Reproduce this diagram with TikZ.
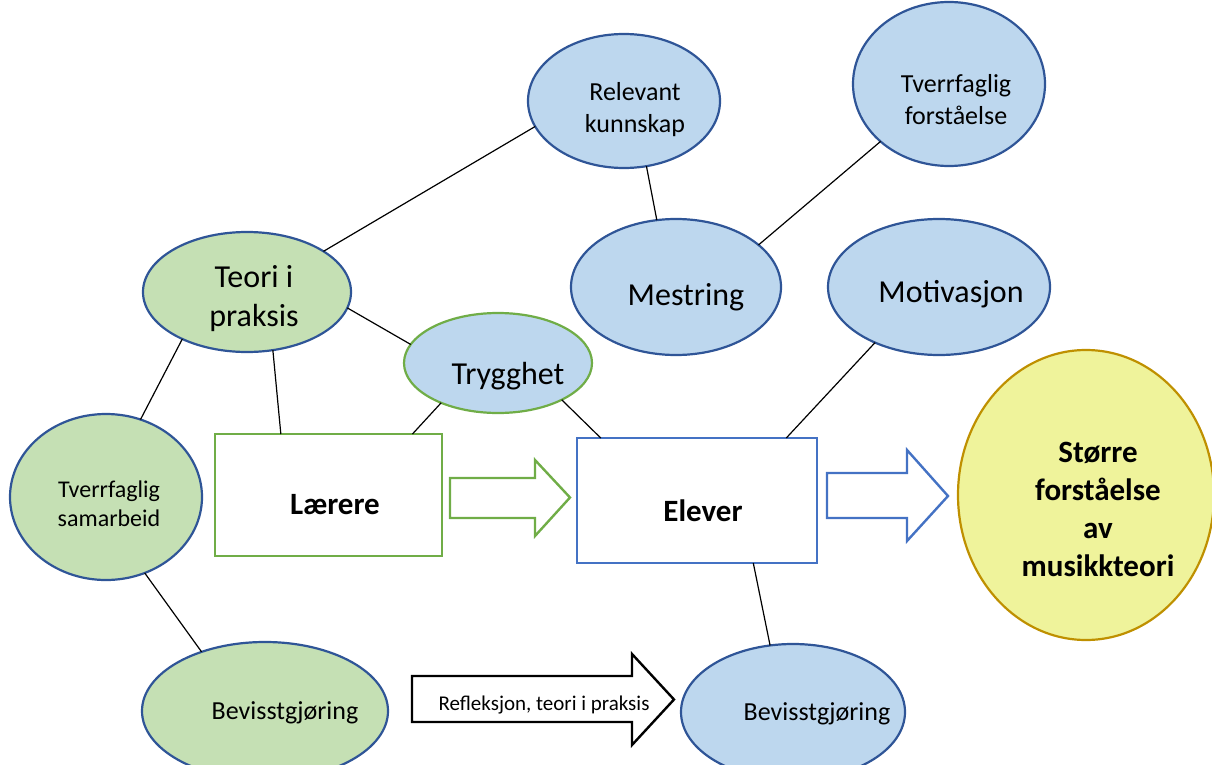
\documentclass[tikz,border=0pt]{standalone}
\usepackage{fontspec}
\setmainfont{Carlito}
\usetikzlibrary{shapes.geometric}
\definecolor{bfill}{HTML}{BDD7EE}
\definecolor{bline}{HTML}{2F5597}
\definecolor{gfill}{HTML}{C5E0B4}
\definecolor{gline}{HTML}{70AD47}
\definecolor{eline}{HTML}{4472C4}
\definecolor{yfill}{HTML}{EFF39B}
\definecolor{yline}{HTML}{BF9000}
\tikzset{
  ell/.style={ellipse, draw=bline, line width=2.2pt, inner sep=0pt, outer sep=0pt},
  bell/.style={ell, fill=bfill},
  gell/.style={ell, fill=gfill},
  box/.style={rectangle, draw, line width=2.2pt, fill=white, inner sep=0pt, outer sep=0pt},
  conn/.style={line width=1.2pt, black},
  blockarrow/.style={line width=2.4pt, fill=white, line join=miter},
  big/.style={font=\fontsize{32}{39}\selectfont, align=center},
  mid/.style={font=\fontsize{26}{32}\selectfont, align=center},
  small/.style={font=\fontsize{24}{29}\selectfont, align=center},
  bold/.style={font=\fontsize{31}{38}\selectfont\bfseries, align=center},
}
\begin{document}
\begin{tikzpicture}[x=1pt,y=-1pt]
\useasboundingbox (0,0) rectangle (1212,765);
\node[bell, minimum width=192pt, minimum height=134pt] (rel) at (624,101) {};
\node[bell, minimum width=192pt, minimum height=164pt] (tvf) at (949,84) {};
\node[gell, minimum width=208pt, minimum height=120pt] (teo) at (247,292) {};
\node[bell, minimum width=210pt, minimum height=136pt] (mes) at (676,287) {};
\node[bell, minimum width=222pt, minimum height=136pt] (mot) at (939,287) {};
\node[bell, draw=gline, minimum width=188pt, minimum height=100pt] (try) at (498,363) {};
\node[gell, minimum width=192pt, minimum height=166pt] (sam) at (106,497) {};
\node[gell, minimum width=246pt, minimum height=138pt] (bevl) at (265,711) {};
\node[bell, minimum width=224pt, minimum height=136pt] (bevr) at (793,712) {};
\node[ell, draw=yline, fill=yfill, minimum width=256pt, minimum height=290pt] (sto) at (1086,495) {};
\node[box, draw=gline, minimum width=227pt, minimum height=122pt] (lar) at (328.5,495) {};
\node[box, draw=eline, minimum width=240pt, minimum height=125pt] (elv) at (697,500.5) {};

% connectors
\draw[conn] (teo.28) -- (rel.196);
\draw[conn] (rel.-71) -- (mes.106);
\draw[conn] (tvf.220) -- (mes.27);
\draw[conn] (teo.-9) -- (try.168);
\draw[conn] (teo.-66) -- (lar.128.5);
\draw[conn] (teo.216) -- (sam.66);
\draw[conn] (try.215) -- (lar.36.5);
\draw[conn] (try.-30) -- (elv.147.2);
\draw[conn] (mot.221) -- (elv.35.4);
\draw[conn] (elv.-48.7) -- (bevr.109);
\draw[conn] (sam.-63) -- (bevl.137);

% block arrows
\draw[blockarrow, draw=gline] (450,478) -- (535,478) -- (535,460) -- (570,497.5) -- (535,536) -- (535,518) -- (450,518) -- cycle;
\draw[blockarrow, draw=eline] (827,473) -- (907,473) -- (907,450) -- (948,496) -- (907,541) -- (907,518) -- (827,518) -- cycle;
\draw[blockarrow, draw=black] (412,676) -- (632,676) -- (632,654) -- (674,699.5) -- (632,745) -- (632,722) -- (412,722) -- cycle;

% texts
\node[mid] (trel) at (635,110) {Relevant\\kunnskap};
\node[mid] (ttvf) at (956,100) {Tverrfaglig\\forståelse};
\node[big] (tteo) at (254,299) {Teori i\\praksis};
\node[big] (tmes) at (686,297) {Mestring};
\node[big] (tmot) at (951,294) {Motivasjon};
\node[big] (ttry) at (508,376) {Trygghet};
\node[small] (tsam) at (109,504) {Tverrfaglig\\samarbeid};
\node[bold] (tlar) at (335,505) {Lærere};
\node[bold] (telv) at (703,511) {Elever};
\node[mid] (tbevl) at (285,713) {Bevisstgjøring};
\node[mid] (tbevr) at (817,714) {Bevisstgjøring};
\node[bold] (tsto) at (1098,509) {Større\\forståelse\\av\\musikkteori};
\node[font=\fontsize{21}{25}\selectfont] (tref) at (544,705) {Refleksjon, teori i praksis};
\end{tikzpicture}
\end{document}
